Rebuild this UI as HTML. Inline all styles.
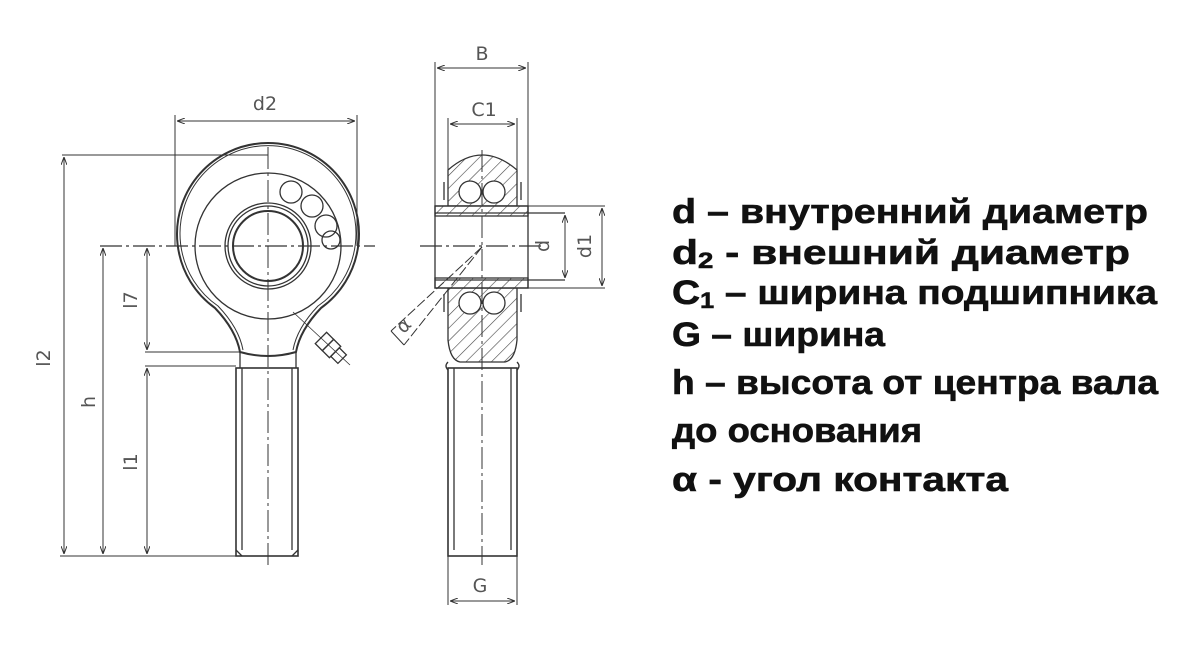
<!DOCTYPE html>
<html><head><meta charset="utf-8"><style>
html,body{margin:0;padding:0;background:#fff;width:1199px;height:651px;overflow:hidden}
svg{display:block}
.t{font-family:"Liberation Sans","DejaVu Sans",sans-serif;font-weight:bold;font-size:34px;fill:#111;stroke:#111;stroke-width:0.6}
.lb{font-family:"DejaVu Sans","Liberation Sans",sans-serif;font-size:19px;fill:#555}
</style></head><body>
<svg width="1199" height="651" viewBox="0 0 1199 651" xmlns="http://www.w3.org/2000/svg">
<defs>
<pattern id="h" width="9" height="9" patternUnits="userSpaceOnUse" patternTransform="rotate(45)">
<line x1="0" y1="0" x2="0" y2="9" stroke="#444" stroke-width="1.2"/></pattern>
<marker id="a" markerWidth="8" markerHeight="6" refX="8" refY="3" orient="auto-start-reverse"><path d="M0,0 L8,3 L0,6" fill="none" stroke="#333" stroke-width="1"/></marker>
</defs>
<g stroke="#333" stroke-width="1.3" fill="none">
<path d="M240,352 Q236,330 215,308 A91,91 0 1 1 321,308 Q300,330 296,352 Q268,360 240,352 Z" stroke-width="2"/>
<path d="M243,350 Q239,328 218,306 A88,88 0 1 1 318,306 Q297,328 293,350" stroke-width="1"/>
<circle cx="268" cy="246" r="73"/>
<circle cx="268" cy="246" r="43"/>
<circle cx="268" cy="246" r="40"/>
<circle cx="268" cy="246" r="35" stroke-width="2"/>
<circle cx="291" cy="192" r="11"/><circle cx="312" cy="206" r="11"/><circle cx="326" cy="226" r="11"/><circle cx="331" cy="240" r="9"/>
<path d="M240,352 L240,368 M296,352 L296,368"/>
<rect x="236" y="368" width="62" height="188" stroke-width="1.6"/>
<line x1="242" y1="368" x2="242" y2="550"/><line x1="292" y1="368" x2="292" y2="550"/>
<path d="M236,550 L242,556 M298,550 L292,556"/>
<g transform="translate(328,345) rotate(45)">
<rect x="-10" y="-8" width="10" height="16"/><rect x="0" y="-8" width="10" height="16"/><rect x="10" y="-6" width="10" height="12"/>
</g>
<line x1="293" y1="312" x2="350" y2="365" stroke-width="0.8"/>
<line x1="100" y1="246" x2="375" y2="246" stroke-dasharray="22,4,3,4"/>
<line x1="268" y1="147" x2="268" y2="565" stroke-dasharray="22,4,3,4" stroke-width="1"/>
<line x1="62" y1="155" x2="268" y2="155" stroke-width="1"/>
<line x1="60" y1="556" x2="236" y2="556" stroke-width="1"/>
<line x1="145" y1="352" x2="240" y2="352" stroke-width="1"/>
<line x1="145" y1="366" x2="236" y2="366" stroke-width="1"/>
<line x1="64" y1="157" x2="64" y2="554" marker-start="url(#a)" marker-end="url(#a)" stroke-width="1"/>
<line x1="103" y1="248" x2="103" y2="554" marker-start="url(#a)" marker-end="url(#a)" stroke-width="1"/>
<line x1="147" y1="248" x2="147" y2="350" marker-start="url(#a)" marker-end="url(#a)" stroke-width="1"/>
<line x1="147" y1="368" x2="147" y2="554" marker-start="url(#a)" marker-end="url(#a)" stroke-width="1"/>
<line x1="175" y1="115" x2="175" y2="246" stroke-width="1"/>
<line x1="357" y1="115" x2="357" y2="246" stroke-width="1"/>
<line x1="177" y1="121" x2="355" y2="121" marker-start="url(#a)" marker-end="url(#a)" stroke-width="1"/>
<path d="M448,206 L448,170 Q482,140 517,170 L517,206 Z" fill="url(#h)"/>
<path d="M448,288 L448,340 Q450,360 460,362 L505,362 Q515,360 517,340 L517,288 Z" fill="url(#h)"/>
<rect x="435" y="206" width="93" height="82" fill="#fff"/>
<rect x="435" y="206" width="93" height="10" fill="url(#h)"/>
<rect x="435" y="278" width="93" height="10" fill="url(#h)"/>
<line x1="435" y1="213" x2="565" y2="213"/><line x1="435" y1="280" x2="565" y2="280"/>
<line x1="528" y1="206" x2="605" y2="206" stroke-width="1"/><line x1="528" y1="288" x2="605" y2="288" stroke-width="1"/>
<circle cx="470" cy="192" r="11" fill="#fff"/><circle cx="494" cy="192" r="11" fill="#fff"/>
<circle cx="470" cy="303" r="11" fill="#fff"/><circle cx="494" cy="303" r="11" fill="#fff"/>
<path d="M444,182 L444,200 M521,182 L521,200 M444,294 L444,312 M521,294 L521,312"/>
<path d="M448,362 Q444,366 448,370 M517,362 Q521,366 517,370"/>
<rect x="448" y="368" width="69" height="188" stroke-width="1.6"/>
<line x1="454" y1="368" x2="454" y2="550"/><line x1="511" y1="368" x2="511" y2="550"/>
<line x1="420" y1="246" x2="545" y2="246" stroke-dasharray="22,4,3,4"/>
<line x1="482" y1="150" x2="482" y2="565" stroke-dasharray="22,4,3,4" stroke-width="1"/>
<line x1="435" y1="62" x2="435" y2="206" stroke-width="1"/><line x1="528" y1="62" x2="528" y2="206" stroke-width="1"/>
<line x1="437" y1="68" x2="526" y2="68" marker-start="url(#a)" marker-end="url(#a)" stroke-width="1"/>
<line x1="448" y1="118" x2="448" y2="170" stroke-width="1"/><line x1="517" y1="118" x2="517" y2="170" stroke-width="1"/>
<line x1="450" y1="124" x2="515" y2="124" marker-start="url(#a)" marker-end="url(#a)" stroke-width="1"/>
<line x1="565" y1="215" x2="565" y2="278" marker-start="url(#a)" marker-end="url(#a)" stroke-width="1"/>
<line x1="602" y1="208" x2="602" y2="286" marker-start="url(#a)" marker-end="url(#a)" stroke-width="1"/>
<line x1="448" y1="556" x2="448" y2="605" stroke-width="1"/><line x1="517" y1="556" x2="517" y2="605" stroke-width="1"/>
<line x1="450" y1="601" x2="515" y2="601" marker-start="url(#a)" marker-end="url(#a)" stroke-width="1"/>
<line x1="482" y1="247" x2="391" y2="331" stroke-width="1" stroke-dasharray="10,3"/>
<line x1="482" y1="247" x2="404" y2="345" stroke-width="1" stroke-dasharray="10,3"/>
<line x1="391" y1="331" x2="404" y2="345" stroke-width="1"/>
</g>
<text class="lb" x="265" y="110" text-anchor="middle">d2</text>
<text class="lb" x="482" y="60" text-anchor="middle">B</text>
<text class="lb" x="484" y="116" text-anchor="middle">C1</text>
<text class="lb" x="480" y="592" text-anchor="middle">G</text>
<text class="lb" transform="translate(50,358) rotate(-90)" text-anchor="middle">l2</text>
<text class="lb" transform="translate(95,402) rotate(-90)" text-anchor="middle">h</text>
<text class="lb" transform="translate(137,300) rotate(-90)" text-anchor="middle">l7</text>
<text class="lb" transform="translate(137,462) rotate(-90)" text-anchor="middle">l1</text>
<text class="lb" transform="translate(549,246) rotate(-90)" text-anchor="middle">d</text>
<text class="lb" transform="translate(591,246) rotate(-90)" text-anchor="middle">d1</text>
<text class="lb" transform="translate(408,330) rotate(-45)" text-anchor="middle">α</text>
<text class="t" x="672" y="223" textLength="476" lengthAdjust="spacingAndGlyphs">d – внутренний диаметр</text>
<text class="t" x="672" y="264" textLength="458" lengthAdjust="spacingAndGlyphs">d<tspan font-size="22" dy="4">2</tspan><tspan dy="-4"> - внешний диаметр</tspan></text>
<text class="t" x="672" y="304" textLength="485" lengthAdjust="spacingAndGlyphs">C<tspan font-size="22" dy="4">1</tspan><tspan dy="-4"> – ширина подшипника</tspan></text>
<text class="t" x="672" y="346" textLength="213" lengthAdjust="spacingAndGlyphs">G – ширина</text>
<text class="t" x="672" y="394" textLength="486" lengthAdjust="spacingAndGlyphs">h – высота от центра вала</text>
<text class="t" x="672" y="442" textLength="250" lengthAdjust="spacingAndGlyphs">до основания</text>
<text class="t" x="672" y="491" textLength="336" lengthAdjust="spacingAndGlyphs">α - угол контакта</text>
</svg>
</body></html>
